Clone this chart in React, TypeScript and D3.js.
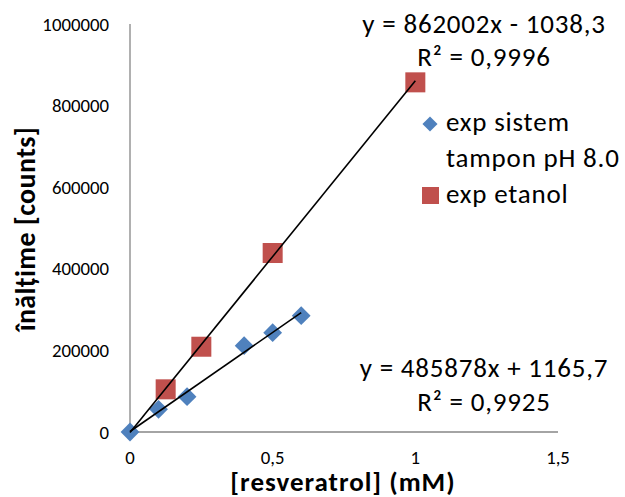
import React from "react";
import * as d3 from "d3";

// Blue series: exp sistem tampon pH 8.0
const bufferX = [0, 0.1, 0.2, 0.4, 0.5, 0.6];
const bufferY = [0, 55600, 86500, 211500, 243400, 285000];
// Red series: exp etanol
const ethanolX = [0.125, 0.25, 0.5, 1];
const ethanolY = [104600, 209000, 438700, 857000];

// Linear trendline coefficients (slope, intercept)
const bufferFit = [485878, 1165.7];
const ethanolFit = [862002, -1038.3];

const xTicks = [0, 0.5, 1, 1.5];
const xTickLabels = ["0", "0,5", "1", "1,5"];
const yTicks = [0, 200000, 400000, 600000, 800000, 1000000];

const W = 625;
const H = 497;
const FONT = "Carlito, Lato, 'Open Sans', sans-serif";
const BLUE = "#4F81BD";
const RED = "#C0504D";
const AXIS = "#868686";

export default function App() {
  const x = d3.scaleLinear().domain([0, 1.5]).range([130, 558]);
  const y = d3.scaleLinear().domain([0, 1000000]).range([432, 24]);

  // trendlines run from the origin to the last measured concentration
  const fitLine = (fit: number[], xs: number[]) => {
    const x1 = d3.max(xs) as number;
    const line = d3
      .line<number>()
      .x((d) => x(d))
      .y((d) => y(fit[0] * d + fit[1]));
    return line([0, x1]) as string;
  };

  const diamond = d3.symbol().type(d3.symbolDiamond2).size(225)() as string;
  const legendDiamond = d3.symbol().type(d3.symbolDiamond2).size(145)() as string;

  const big = { fontSize: 27, letterSpacing: 0.8, fill: "#000" };

  return (
    <svg
      width={W}
      height={H}
      style={{ position: "absolute", left: 0, top: 0, background: "#fff" }}
      fontFamily={FONT}
    >
      {/* axes */}
      <line x1={x(0)} x2={x(0)} y1={y(0)} y2={y(1000000)} stroke={AXIS} strokeWidth={1.3} />
      <line x1={x(0)} x2={x(1.5)} y1={y(0)} y2={y(0)} stroke={AXIS} strokeWidth={1.3} />

      {yTicks.map((t) => (
        <text key={t} x={109} y={y(t)} dy="0.35em" textAnchor="end" fontSize={18.8} fill="#000">
          {t}
        </text>
      ))}
      {xTicks.map((t, i) => (
        <text key={t} x={x(t)} y={464} textAnchor="middle" fontSize={18.8} fill="#000">
          {xTickLabels[i]}
        </text>
      ))}

      {/* axis titles */}
      <text
        transform={`translate(35,${229}) rotate(-90)`}
        textAnchor="middle"
        fontSize={28}
        letterSpacing={0.4}
        fontWeight="bold"
        fill="#000"
      >
        înălțime [counts]
      </text>
      <text x={343} y={491} textAnchor="middle" fontSize={27} letterSpacing={1} fontWeight="bold" fill="#000">
        [resveratrol] (mM)
      </text>

      {/* markers */}
      {ethanolX.map((d, i) => (
        <rect
          key={"e" + i}
          x={x(d) - 10}
          y={y(ethanolY[i]) - 10}
          width={20}
          height={20}
          fill={RED}
        />
      ))}
      {bufferX.map((d, i) => (
        <path
          key={"b" + i}
          d={diamond}
          transform={`translate(${x(d)},${y(bufferY[i])})`}
          fill={BLUE}
        />
      ))}

      {/* trendlines */}
      <path d={fitLine(ethanolFit, ethanolX)} stroke="#000" strokeWidth={1.6} fill="none" />
      <path d={fitLine(bufferFit, bufferX)} stroke="#000" strokeWidth={1.6} fill="none" />

      {/* equations */}
      <text x={484} y={33} textAnchor="middle" {...big}>
        y = 862002x - 1038,3
      </text>
      <text x={484} y={66} textAnchor="middle" {...big}>
        R² = 0,9996
      </text>
      <text x={484} y={377} textAnchor="middle" {...big}>
        y = 485878x + 1165,7
      </text>
      <text x={484} y={411} textAnchor="middle" {...big}>
        R² = 0,9925
      </text>

      {/* legend */}
      <path d={legendDiamond} transform="translate(430,124)" fill={BLUE} />
      <text x={446} y={131} {...big}>exp sistem</text>
      <text x={446} y={167} {...big}>tampon pH 8.0</text>
      <rect x={422} y={187} width={17} height={17} fill={RED} />
      <text x={446} y={203} {...big}>exp etanol</text>
    </svg>
  );
}
